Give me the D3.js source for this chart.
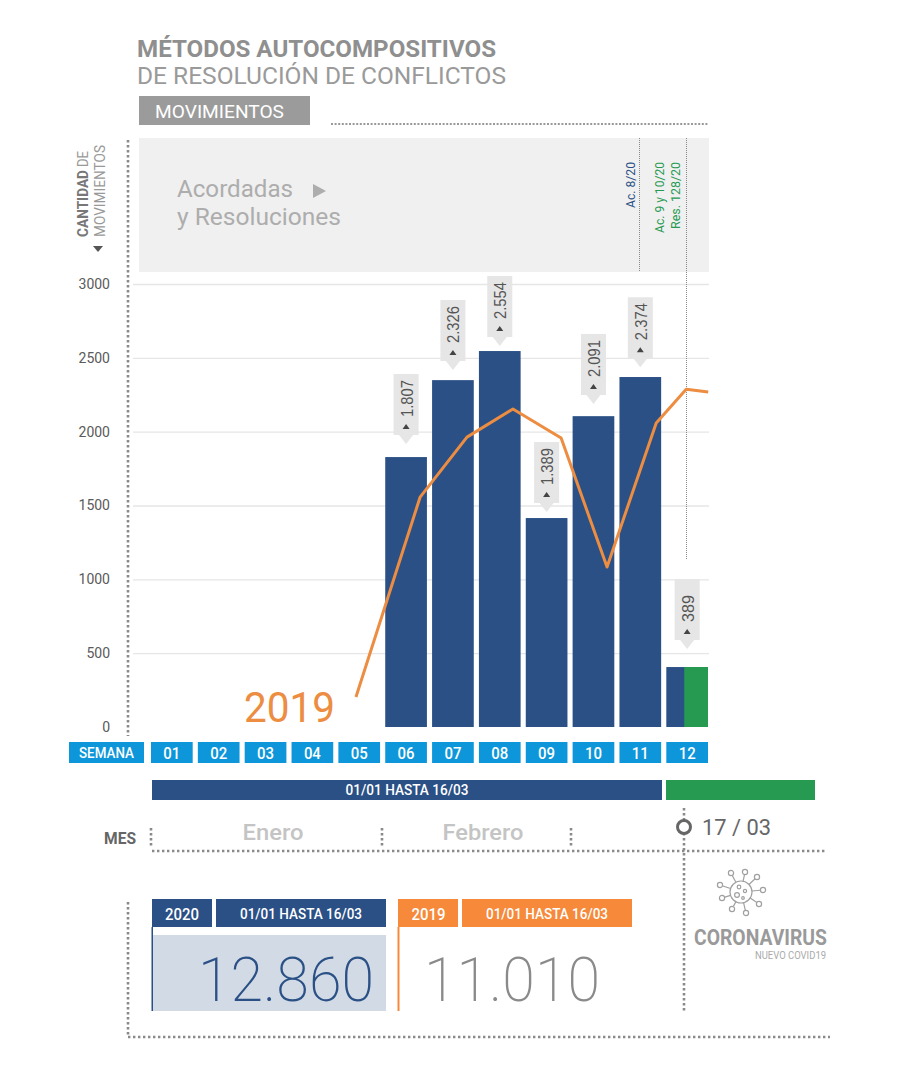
<!DOCTYPE html>
<html lang="es">
<head>
<meta charset="utf-8">
<script src="https://cdn.jsdelivr.net/npm/d3@7"></script>
<style>
html,body{margin:0;padding:0;background:#fff}
svg{display:block}
text{font-family:Roboto,"Liberation Sans",sans-serif}
</style>
</head>
<body>
<svg id="c" width="915" height="1075"></svg>
<script>
const weeks = ["01","02","03","04","05","06","07","08","09","10","11","12"];
const barWeeks = ["06","07","08","09","10","11","12"];
const barValues = [1828,2349,2546,1415,2105,2370,406];
const calloutTexts = ["1.807","2.326","2.554","1.389","2.091","2.374","389"];
const calloutTipValues = [1916,2417,2580,1456,2187,2437,528];
const greenShareWeek12 = 0.57;
const line2019Weeks = [4.93,6.30,7.30,8.28,9.31,10.29,11.34,11.98,12.45];
const line2019Values = [203,1557,1963,2153,1957,1083,2058,2288,2268];
const yTicks = [0,500,1000,1500,2000,2500,3000];
const months = ["Enero","Febrero"];
const titleBold = "MÉTODOS AUTOCOMPOSITIVOS";
const titleLight = "DE RESOLUCIÓN DE CONFLICTOS";
const rangeText = "01/01 HASTA 16/03";
const total2020 = "12.860";
const total2019 = "11.010";

const BLUE="#2a5086", GREEN="#279a52", ORANGE="#ec8d42", CYAN="#0e96da", DOT="#8a8a8a";
const svg = d3.select("#c");

const x = d3.scaleBand().domain(weeks).range([151,708]).paddingInner(0.11);
const xPos = d3.scaleLinear().domain([1,12]).range([x("01")+x.bandwidth()/2, x("12")+x.bandwidth()/2]);
const y = d3.scaleLinear().domain([0,3000]).range([727,284]);

function txt(t,xx,yy,size,fill,opt={}){
  const e = svg.append("text").attr("x",xx).attr("y",yy).attr("font-size",size).attr("fill",fill)
    .attr("font-weight",opt.w||400).attr("text-anchor",opt.a||"start").text(t);
  if(opt.len){e.attr("textLength",opt.len).attr("lengthAdjust","spacingAndGlyphs");}
  if(opt.rot){e.attr("transform",`rotate(-90 ${xx} ${yy})`);}
  return e;
}
function dots(x1,y1,x2,y2,w=2.6,dash="2.4 2.6",c=DOT){
  svg.append("line").attr("x1",x1).attr("y1",y1).attr("x2",x2).attr("y2",y2)
    .attr("stroke",c).attr("stroke-width",w).attr("stroke-dasharray",dash);
}
function rect(x0,y0,w,h,f){svg.append("rect").attr("x",x0).attr("y",y0).attr("width",w).attr("height",h).attr("fill",f);}

// Title
txt(titleBold,137,57,23.5,"#8f8f8f",{w:700,len:359});
txt(titleLight,137,84,23.5,"#9a9a9a",{w:400,len:369});
rect(139,96,171,29,"#9b9b9b");
txt("MOVIMIENTOS",155,118,19,"#fff",{len:129});
dots(331,124,709,124,2.2,"2 1.6","#999");

// Band
rect(139,138,570,134,"#f0f0f0");
txt("Acordadas",177,197,24,"#adadad",{len:116});
svg.append("path").attr("d","M313,184L326,191L313,198Z").attr("fill","#adadad");
txt("y Resoluciones",177,225,24,"#adadad",{len:164});

// Axis title
txt("CANTIDAD",88,237,14.5,"#777",{rot:true,w:700,len:67});
txt("DE",88,167,14.5,"#999",{rot:true,len:16});
txt("MOVIMIENTOS",105,237,14.5,"#999",{rot:true,len:92});
svg.append("path").attr("d","M93,246L103,246L98,252Z").attr("fill","#555");
dots(128,140,128,736);

// Grid + axis
const axis = svg.append("g").attr("transform","translate(133,0)")
  .call(d3.axisLeft(y).tickValues(yTicks).tickFormat(d3.format("d")).tickSize(-576).tickPadding(23));
axis.select(".domain").remove();
axis.selectAll("line").attr("stroke","#e6e6e6").attr("stroke-width",1.3);
axis.selectAll(".tick").filter(d=>d===0).select("line").remove();
axis.selectAll("text").attr("font-size",14).attr("fill","#5a5a5a").style("font-family","Roboto");

// Annotation lines
dots(639.5,138,639.5,271,1,"1 1","#888");
dots(686.5,138,686.5,559,1,"1 1","#888");
txt("Ac. 8/20",635,162,13,BLUE,{rot:true,a:"end",len:46});
txt("Ac. 9 y 10/20",664,162,13,GREEN,{rot:true,a:"end",len:71});
txt("Res. 128/20",680,162,13,GREEN,{rot:true,a:"end",len:67});

// Bars
svg.append("g").selectAll("rect").data(barWeeks).join("rect")
  .attr("x",d=>x(d)).attr("width",x.bandwidth())
  .attr("y",(d,i)=>y(barValues[i])).attr("height",(d,i)=>y(0)-y(barValues[i]))
  .attr("fill",BLUE);
svg.append("rect")
  .attr("x",x("12")+x.bandwidth()*(1-greenShareWeek12)).attr("width",x.bandwidth()*greenShareWeek12)
  .attr("y",y(barValues[6])).attr("height",y(0)-y(barValues[6])).attr("fill",GREEN);

// 2019 line
svg.append("path")
  .datum(line2019Values)
  .attr("d",d3.line().x((d,i)=>xPos(line2019Weeks[i])).y(d=>y(d)))
  .attr("fill","none").attr("stroke",ORANGE).attr("stroke-width",3).attr("stroke-linejoin","round");
txt("2019",244,722,43,ORANGE,{len:91});

// Callouts
const co = svg.append("g").selectAll("g").data(barWeeks).join("g")
  .attr("transform",(d,i)=>`translate(${x(d)+x.bandwidth()/2},${y(calloutTipValues[i])})`);
co.append("path").attr("d","M-12.5,-70H12.5V-9H7L0,0L-7,-9H-12.5Z").attr("fill","#e6e6e6");
co.append("path").attr("d","M-3.5,-15H3.5L0,-20Z").attr("fill","#444");
co.append("text").attr("transform","translate(6.5,-27) rotate(-90)")
  .attr("font-size",17).attr("fill","#555").style("font-family","'Liberation Sans'")
  .attr("textLength",(d,i)=>calloutTexts[i].length>3?37:27).attr("lengthAdjust","spacingAndGlyphs")
  .text((d,i)=>calloutTexts[i]);

// Week row
rect(69,742,75,21,CYAN);
txt("SEMANA",106.5,758,15,"#fff",{a:"middle",w:500,len:55});
svg.append("g").selectAll("rect").data(weeks).join("rect")
  .attr("x",d=>x(d)).attr("y",742).attr("width",x.bandwidth()).attr("height",21).attr("fill",CYAN);
svg.append("g").selectAll("text").data(weeks).join("text")
  .attr("x",d=>x(d)+x.bandwidth()/2).attr("y",759).attr("text-anchor","middle")
  .attr("font-size",17).attr("font-weight",500).attr("fill","#fff")
  .attr("textLength",17).attr("lengthAdjust","spacingAndGlyphs").text(d=>d);

// Range bars
rect(152,780,510,20,BLUE);
rect(666,780,149,20,GREEN);
txt(rangeText,407,795,14,"#fff",{a:"middle",w:500,len:123});

// Month row
txt("MES",104,844,16,"#666",{w:700,len:32});
[151,382,571].forEach(v=>dots(v,828,v,847));
dots(152,851,826,851);
txt(months[0],273,840,22,"#c4c4c4",{a:"middle",w:500,len:61});
txt(months[1],483,840,22,"#c4c4c4",{a:"middle",w:500,len:81});
dots(684,808,684,1012);
svg.append("circle").attr("cx",684).attr("cy",827).attr("r",6.5).attr("fill","#fff").attr("stroke","#666").attr("stroke-width",3);
txt("17 / 03",702,835,22,"#666",{len:69});

// Virus icon
const ic = svg.append("g").attr("transform","translate(741,892)").attr("fill","none").attr("stroke","#a0a0a0").attr("stroke-width",1.2);
ic.append("circle").attr("r",11);
ic.append("circle").attr("cx",-2).attr("cy",-5).attr("r",1.8);
ic.append("circle").attr("cx",4).attr("cy",-1).attr("r",1.6);
ic.append("circle").attr("cx",-4).attr("cy",3).attr("r",2.4);
ic.append("circle").attr("cx",2).attr("cy",6).attr("r",1.3);
[[-10,-19],[4,-20],[16,-15],[22,-2],[18,12],[5,21],[-9,17],[-19,6],[-21,-7]].forEach(([a,b])=>{
  const n=Math.hypot(a,b);
  ic.append("line").attr("x1",a/n*11).attr("y1",b/n*11).attr("x2",a/n*(n-3)).attr("y2",b/n*(n-3));
  ic.append("circle").attr("cx",a).attr("cy",b).attr("r",2.6);
});
txt("CORONAVIRUS",694,945,22,"#9a9a9a",{w:700,len:133});
txt("NUEVO COVID19",755,959,10,"#aaaaaa",{len:71});

// Totals
dots(128,902,128,1037);
dots(128,1037,830,1037);
rect(152,899,60,28,BLUE);
rect(216,899,170,28,BLUE);
rect(398,899,60,28,"#f6893a");
rect(462,899,170,28,"#f6893a");
txt("2020",182,920,16,"#fff",{a:"middle",w:500,len:34});
txt(rangeText,301,919,14,"#fff",{a:"middle",w:500,len:122});
txt("2019",428.5,920,16,"#fff",{a:"middle",w:500,len:34});
txt(rangeText,547,919,14,"#fff",{a:"middle",w:500,len:122});
rect(152,935,234,76,"#d2dbe5");
rect(151.5,927,1.5,84,BLUE);
rect(397.5,927,2,84,"#f6893a");
txt(total2020,198,1001,61,BLUE,{w:200,len:176});
txt(total2019,424,1001,61,"#8a8a8a",{w:200,len:176});
</script>
</body>
</html>
